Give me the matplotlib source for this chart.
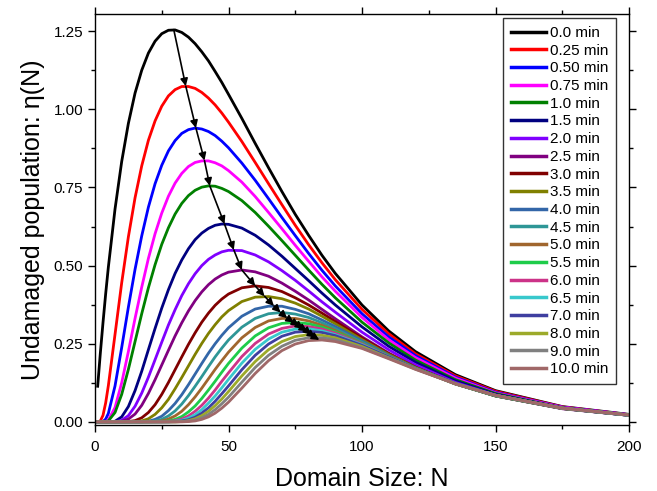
import matplotlib

matplotlib.use("Agg")
import matplotlib.pyplot as plt
from matplotlib.ticker import MultipleLocator, FormatStrFormatter

plt.rcParams["font.family"] = ["Liberation Sans", "DejaVu Sans"]

# domain size grid shared by all curves
N = [1, 2, 3, 4, 5, 7.5, 10, 12.5, 15, 17.5, 20, 22.5, 25, 27.5, 30, 32.5, 35, 37.5, 40, 42.5,
     45, 47.5, 50, 55, 60, 65, 70, 75, 80, 85, 90, 100, 110, 120, 135, 150, 175, 200]

eta_t0_00 = [0.114, 0.220, 0.318, 0.410, 0.495, 0.681, 0.833, 0.955, 1.052, 1.125, 1.180, 1.218, 1.242, 1.253,
             1.254, 1.246, 1.231, 1.210, 1.184, 1.155, 1.121, 1.086, 1.048, 0.971, 0.891, 0.813, 0.737, 0.664,
             0.597, 0.533, 0.475, 0.374, 0.291, 0.225, 0.151, 0.100, 0.049, 0.024]
eta_t0_25 = [0, 0.003, 0.021, 0.061, 0.116, 0.280, 0.445, 0.592, 0.717, 0.819, 0.901, 0.963, 1.010, 1.043,
             1.063, 1.073, 1.073, 1.067, 1.054, 1.036, 1.014, 0.988, 0.959, 0.897, 0.830, 0.762, 0.695, 0.629,
             0.567, 0.509, 0.455, 0.360, 0.282, 0.218, 0.147, 0.098, 0.048, 0.023]
eta_t0_50 = [0, 0, 0.001, 0.009, 0.027, 0.115, 0.238, 0.367, 0.488, 0.595, 0.687, 0.762, 0.821, 0.867,
             0.900, 0.923, 0.935, 0.940, 0.937, 0.929, 0.916, 0.898, 0.877, 0.828, 0.773, 0.714, 0.654, 0.596,
             0.539, 0.485, 0.435, 0.346, 0.272, 0.212, 0.143, 0.095, 0.047, 0.023]
eta_t0_75 = [0, 0, 0, 0.001, 0.006, 0.046, 0.125, 0.225, 0.331, 0.431, 0.523, 0.602, 0.668, 0.722,
             0.764, 0.795, 0.817, 0.830, 0.835, 0.835, 0.829, 0.819, 0.804, 0.767, 0.721, 0.670, 0.618, 0.565,
             0.514, 0.464, 0.418, 0.334, 0.263, 0.206, 0.140, 0.093, 0.047, 0.023]
eta_t1_0 = [0, 0, 0, 0.001, 0.003, 0.030, 0.088, 0.168, 0.257, 0.346, 0.429, 0.503, 0.568, 0.621,
            0.665, 0.699, 0.724, 0.741, 0.751, 0.755, 0.754, 0.747, 0.737, 0.708, 0.670, 0.626, 0.580, 0.533,
            0.486, 0.440, 0.397, 0.319, 0.253, 0.198, 0.135, 0.091, 0.045, 0.022]
eta_t1_5 = [0, 0, 0, 0, 0, 0.002, 0.016, 0.049, 0.100, 0.162, 0.231, 0.299, 0.364, 0.423,
            0.475, 0.518, 0.554, 0.583, 0.604, 0.619, 0.629, 0.633, 0.632, 0.620, 0.597, 0.566, 0.530, 0.491,
            0.452, 0.412, 0.374, 0.304, 0.242, 0.191, 0.131, 0.088, 0.045, 0.022]
eta_t2_0 = [0, 0, 0, 0, 0, 0, 0.005, 0.020, 0.050, 0.092, 0.143, 0.199, 0.255, 0.310,
            0.359, 0.404, 0.442, 0.474, 0.500, 0.520, 0.534, 0.544, 0.549, 0.548, 0.534, 0.512, 0.484, 0.453,
            0.419, 0.384, 0.351, 0.287, 0.231, 0.183, 0.126, 0.086, 0.043, 0.021]
eta_t2_5 = [0, 0, 0, 0, 0, 0, 0.002, 0.009, 0.025, 0.053, 0.091, 0.135, 0.182, 0.229,
            0.275, 0.317, 0.355, 0.388, 0.416, 0.439, 0.457, 0.470, 0.479, 0.486, 0.480, 0.466, 0.444, 0.418,
            0.390, 0.360, 0.330, 0.272, 0.220, 0.175, 0.122, 0.083, 0.042, 0.021]
eta_t3_0 = [0, 0, 0, 0, 0, 0, 0, 0.001, 0.004, 0.013, 0.030, 0.055, 0.088, 0.126,
            0.167, 0.208, 0.248, 0.285, 0.319, 0.348, 0.373, 0.393, 0.409, 0.429, 0.435, 0.430, 0.417, 0.397,
            0.374, 0.348, 0.321, 0.268, 0.218, 0.175, 0.122, 0.083, 0.043, 0.021]
eta_t3_5 = [0, 0, 0, 0, 0, 0, 0, 0, 0.001, 0.003, 0.010, 0.024, 0.045, 0.072,
            0.106, 0.142, 0.179, 0.216, 0.251, 0.283, 0.311, 0.336, 0.356, 0.385, 0.399, 0.401, 0.394, 0.380,
            0.361, 0.338, 0.314, 0.263, 0.216, 0.174, 0.122, 0.083, 0.043, 0.021]
eta_t4_0 = [0, 0, 0, 0, 0, 0, 0, 0, 0, 0, 0.002, 0.008, 0.018, 0.036,
            0.059, 0.087, 0.119, 0.153, 0.187, 0.220, 0.250, 0.277, 0.301, 0.338, 0.361, 0.370, 0.370, 0.360,
            0.346, 0.326, 0.305, 0.259, 0.213, 0.172, 0.122, 0.084, 0.043, 0.021]
eta_t4_5 = [0, 0, 0, 0, 0, 0, 0, 0, 0, 0, 0.001, 0.003, 0.008, 0.019,
            0.035, 0.057, 0.084, 0.114, 0.145, 0.177, 0.208, 0.236, 0.262, 0.303, 0.331, 0.346, 0.350, 0.345,
            0.334, 0.317, 0.298, 0.255, 0.211, 0.171, 0.121, 0.083, 0.043, 0.021]
eta_t5_0 = [0, 0, 0, 0, 0, 0, 0, 0, 0, 0, 0, 0.001, 0.003, 0.009,
            0.019, 0.034, 0.055, 0.080, 0.108, 0.138, 0.168, 0.196, 0.223, 0.269, 0.302, 0.323, 0.331, 0.331,
            0.323, 0.309, 0.292, 0.251, 0.210, 0.171, 0.121, 0.084, 0.043, 0.022]
eta_t5_5 = [0, 0, 0, 0, 0, 0, 0, 0, 0, 0, 0, 0, 0.001, 0.003,
            0.008, 0.017, 0.032, 0.051, 0.075, 0.102, 0.130, 0.159, 0.187, 0.236, 0.275, 0.301, 0.315, 0.318,
            0.314, 0.303, 0.288, 0.250, 0.210, 0.171, 0.122, 0.084, 0.044, 0.022]
eta_t6_0 = [0, 0, 0, 0, 0, 0, 0, 0, 0, 0, 0, 0, 0, 0.001,
            0.004, 0.009, 0.019, 0.034, 0.053, 0.076, 0.102, 0.130, 0.157, 0.209, 0.251, 0.281, 0.299, 0.307,
            0.305, 0.297, 0.284, 0.249, 0.209, 0.171, 0.122, 0.085, 0.044, 0.022]
eta_t6_5 = [0, 0, 0, 0, 0, 0, 0, 0, 0, 0, 0, 0, 0, 0,
            0.002, 0.005, 0.012, 0.023, 0.039, 0.060, 0.083, 0.109, 0.136, 0.188, 0.232, 0.265, 0.287, 0.297,
            0.298, 0.291, 0.279, 0.247, 0.208, 0.171, 0.123, 0.085, 0.044, 0.022]
eta_t7_0 = [0, 0, 0, 0, 0, 0, 0, 0, 0, 0, 0, 0, 0, 0,
            0.001, 0.003, 0.007, 0.015, 0.028, 0.045, 0.066, 0.090, 0.115, 0.167, 0.213, 0.249, 0.274, 0.287,
            0.290, 0.286, 0.276, 0.245, 0.208, 0.171, 0.123, 0.085, 0.044, 0.022]
eta_t8_0 = [0, 0, 0, 0, 0, 0, 0, 0, 0, 0, 0, 0, 0, 0,
            0, 0.001, 0.004, 0.010, 0.020, 0.034, 0.052, 0.073, 0.097, 0.147, 0.193, 0.231, 0.257, 0.273,
            0.279, 0.277, 0.269, 0.241, 0.205, 0.170, 0.122, 0.085, 0.044, 0.022]
eta_t9_0 = [0, 0, 0, 0, 0, 0, 0, 0, 0, 0, 0, 0, 0, 0,
            0, 0.001, 0.002, 0.006, 0.013, 0.024, 0.039, 0.058, 0.079, 0.127, 0.174, 0.213, 0.242, 0.261,
            0.269, 0.269, 0.263, 0.237, 0.204, 0.169, 0.122, 0.085, 0.044, 0.022]
eta_t10_0 = [0, 0, 0, 0, 0, 0, 0, 0, 0, 0, 0, 0, 0, 0,
             0, 0, 0.001, 0.003, 0.008, 0.016, 0.028, 0.044, 0.063, 0.108, 0.155, 0.196, 0.228, 0.249,
             0.260, 0.262, 0.257, 0.235, 0.202, 0.168, 0.122, 0.085, 0.044, 0.022]

labels = ["0.0 min", "0.25 min", "0.50 min", "0.75 min", "1.0 min", "1.5 min", "2.0 min", "2.5 min",
          "3.0 min", "3.5 min", "4.0 min", "4.5 min", "5.0 min", "5.5 min", "6.0 min", "6.5 min",
          "7.0 min", "8.0 min", "9.0 min", "10.0 min"]

# peak positions (the arrow runs through them)
peak_N = [29.5, 34, 37.8, 41, 43, 48.5, 52, 55, 60, 63.5, 67, 69.5, 72, 74.5, 76.5, 78, 79.5, 81, 82.5, 84]
peak_eta = [1.255, 1.074, 0.940, 0.836, 0.755, 0.633, 0.550, 0.486, 0.435, 0.402, 0.371, 0.350, 0.332,
            0.318, 0.307, 0.298, 0.290, 0.279, 0.270, 0.262]

series = [eta_t0_00, eta_t0_25, eta_t0_50, eta_t0_75, eta_t1_0, eta_t1_5, eta_t2_0, eta_t2_5, eta_t3_0,
          eta_t3_5, eta_t4_0, eta_t4_5, eta_t5_0, eta_t5_5, eta_t6_0, eta_t6_5, eta_t7_0, eta_t8_0,
          eta_t9_0, eta_t10_0]

colors = ["#000000", "#FF0000", "#0000FF", "#FF00FF", "#008000", "#000080", "#8000FF", "#800080",
          "#800000", "#808000", "#3366A8", "#2E9696", "#A0662E", "#1ECC4A", "#CC3388", "#38C8CC",
          "#3F3FA0", "#9CAA2A", "#808080", "#A06868"]

fig = plt.figure(figsize=(6.57, 4.91), dpi=100)
ax = fig.add_axes([95 / 657, 66 / 491, 534 / 657, 411 / 491])

for ys, lab, c in zip(series, labels, colors):
    ax.plot(N, ys, color=c, lw=2.0, label=lab, solid_joinstyle="round")

# arrow chain from peak to peak
for i in range(len(peak_N) - 1):
    ax.annotate("", xy=(peak_N[i + 1], peak_eta[i + 1]), xytext=(peak_N[i], peak_eta[i]),
                arrowprops=dict(arrowstyle="-|>", color="k", lw=1.2, mutation_scale=11,
                                shrinkA=0, shrinkB=0))

ax.set_xlim(0, 200)
ax.set_ylim(-0.01, 1.305)
ax.xaxis.set_major_locator(MultipleLocator(50))
ax.xaxis.set_minor_locator(MultipleLocator(25))
ax.yaxis.set_major_locator(MultipleLocator(0.25))
ax.yaxis.set_minor_locator(MultipleLocator(0.125))
ax.yaxis.set_major_formatter(FormatStrFormatter("%.2f"))
ax.tick_params(which="both", direction="out", top=True, right=True, labelsize=11, width=1)
ax.tick_params(which="major", length=5)
ax.tick_params(which="minor", length=3)
ax.tick_params(axis="x", which="major", pad=6)
for sp in ax.spines.values():
    sp.set_linewidth(1.0)

ax.set_xlabel("Domain Size: N", fontsize=18, labelpad=9)
ax.set_ylabel("Undamaged population: \u03b7(N)", fontsize=18, labelpad=6)

leg = ax.legend(loc="upper right", bbox_to_anchor=(0.9757, 0.9896), borderaxespad=0,
                fontsize=11, labelspacing=0.243, handlelength=2.3, handletextpad=0.26,
                borderpad=0.5, fancybox=False, framealpha=1)
leg.get_frame().set_edgecolor("#333333")
leg.get_frame().set_linewidth(1.0)
for h in leg.get_lines():
    h.set_linewidth(2.5)

fig.savefig("out.png", dpi=100)
